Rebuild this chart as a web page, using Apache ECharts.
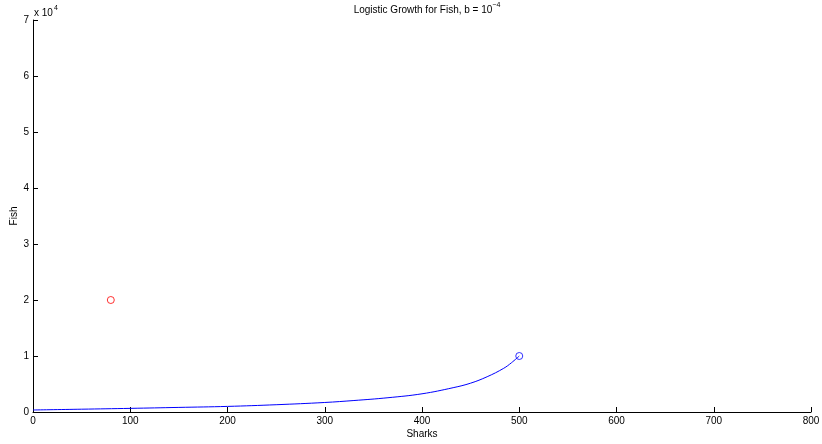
<!DOCTYPE html>
<html>
<head>
<meta charset="utf-8">
<script src="https://cdn.jsdelivr.net/npm/echarts@6/dist/echarts.min.js"></script>
<style>
  html, body { margin: 0; padding: 0; background: #fff; }
  #chart { width: 822px; height: 444px; }
</style>
</head>
<body>
<div id="chart"></div>
<script>
// Shark/fish trajectory, sampled along the curve
const sharks = [0, 50, 100, 150, 200, 250, 300, 330, 365, 400, 432, 450, 467, 484, 492, 500];
const fish   = [360, 500, 650, 820, 1000, 1300, 1700, 2050, 2550, 3250, 4340, 5150, 6300, 7800, 8800, 10000];

// Start point of the trajectory and the separate point
const startPoint = [500, 10000];
const otherPoint = [80, 20000];

const xTicks = [0, 100, 200, 300, 400, 500, 600, 700, 800];
const yTicks = [0, 1, 2, 3, 4, 5, 6, 7];
const yScale = 10000;

const FONT = 'Liberation Sans, Arial, sans-serif';
const chart = echarts.init(document.getElementById('chart'));

chart.setOption({
  backgroundColor: '#fff',
  animation: false,
  title: {
    text: '{t|Logistic Growth for Fish, b = 10}{s|\u22124}',
    left: 422,
    textAlign: 'center',
    top: -3,
    textStyle: {
      fontWeight: 'normal',
      rich: {
        t: { fontFamily: FONT, fontSize: 10, fontWeight: 'normal', color: '#000', verticalAlign: 'bottom' },
        s: { fontFamily: FONT, fontSize: 7, fontWeight: 'normal', color: '#000', padding: [0, 0, 6, 0], verticalAlign: 'bottom' }
      }
    }
  },
  grid: { left: 33, right: 11, top: 20, bottom: 32, containLabel: false, outerBoundsMode: 'none' },
  xAxis: {
    type: 'value',
    min: xTicks[0],
    max: xTicks[xTicks.length - 1],
    interval: 100,
    name: 'Sharks',
    nameLocation: 'middle',
    nameGap: 17,
    nameMoveOverlap: false,
    nameTextStyle: { fontFamily: FONT, fontSize: 10, color: '#000' },
    axisLine: { lineStyle: { color: '#000', width: 1 } },
    axisTick: { inside: true, length: 5, lineStyle: { color: '#000' } },
    axisLabel: { fontFamily: FONT, fontSize: 10, color: '#000', margin: 4 },
    splitLine: { show: false }
  },
  yAxis: {
    type: 'value',
    min: yTicks[0] * yScale,
    max: yTicks[yTicks.length - 1] * yScale,
    interval: yScale,
    name: 'Fish',
    nameLocation: 'middle',
    nameGap: 14,
    nameMoveOverlap: false,
    nameRotate: 90,
    nameTextStyle: { fontFamily: FONT, fontSize: 10, color: '#000' },
    axisLine: { show: true, lineStyle: { color: '#000', width: 1 } },
    axisTick: { show: true, inside: true, length: 5, lineStyle: { color: '#000' } },
    axisLabel: {
      fontFamily: FONT, fontSize: 10, color: '#000', margin: 4,
      formatter: v => String(Math.round(v / yScale))
    },
    splitLine: { show: false }
  },
  graphic: [{
    type: 'text',
    left: 34,
    top: 5,
    style: {
      text: '{a|x 10}{b|4}',
      rich: {
        a: { fontFamily: FONT, fontSize: 10, fill: '#000', verticalAlign: 'bottom' },
        b: { fontFamily: FONT, fontSize: 7, fill: '#000', padding: [0, 0, 6, 1], verticalAlign: 'bottom' }
      }
    }
  }],
  series: [
    {
      type: 'line',
      data: sharks.map((s, i) => [s, fish[i]]),
      smooth: 0.4,
      showSymbol: false,
      lineStyle: { color: '#0000ff', width: 1 },
      z: 3
    },
    {
      type: 'scatter',
      data: [startPoint],
      symbol: 'circle',
      symbolSize: 7,
      itemStyle: { color: 'rgba(0,0,0,0)', borderColor: '#0000ff', borderWidth: 1 },
      z: 4
    },
    {
      type: 'scatter',
      data: [otherPoint],
      symbol: 'circle',
      symbolSize: 7,
      itemStyle: { color: 'rgba(0,0,0,0)', borderColor: '#ff0000', borderWidth: 1 },
      z: 4
    }
  ]
});
</script>
</body>
</html>
